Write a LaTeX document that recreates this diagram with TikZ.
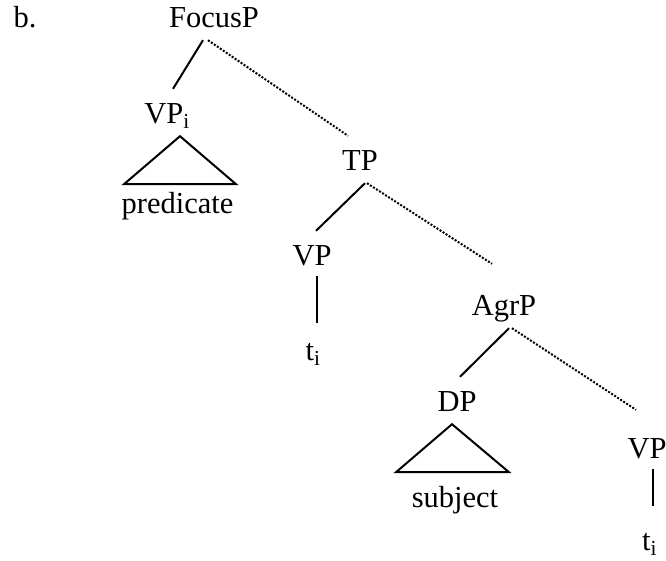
\documentclass[tikz,border=0pt]{standalone}
\usepackage{fontspec}
\setmainfont{Liberation Serif}
\usetikzlibrary{calc}
\tikzset{
  cat/.style={font=\fontsize{30.5}{36}\selectfont, anchor=base, inner xsep=0pt, inner ysep=13pt, text height=21pt, text depth=0pt},
  leaf/.style={font=\fontsize{30.5}{36}\selectfont, anchor=base, inner sep=0pt},
  branch/.style={draw=black, line width=2pt},
  chain/.style={draw=black, line width=2pt, dash pattern=on 2pt off 1.6pt},
  roof/.style={draw=black, line width=2pt, line join=miter}
}

\begin{document}
\begin{tikzpicture}[x=1pt,y=-1pt]
  \useasboundingbox (0,0) rectangle (666,560);

  \node[leaf] (ex) at (25,27) {b.};
  \node[cat] (focus) at (214,27) {FocusP};
  \node[cat] (vpi) at (167,123) {VP\textsubscript{i}};
  \node[cat] (tp) at (360,170) {TP};
  \node[cat] (vpa) at (312,265) {VP};
  \node[cat] (ta) at (313,360) {t\textsubscript{i}};
  \node[cat] (agrp) at (504,315) {AgrP};
  \node[cat] (dp) at (457,411) {DP};
  \node[cat] (vpb) at (647,458) {VP};
  \node[cat] (tb) at (649.5,550) {t\textsubscript{i}};
  \node[leaf] (pred) at (177.5,213) {predicate};
  \node[leaf] (subj) at (455,507) {subject};

  \draw[branch] ([xshift=-11pt]focus.south) -- ([xshift=6pt]vpi.north);
  \draw[chain] ([xshift=-6pt]focus.south) -- ([xshift=-12pt]tp.north);
  \draw[branch] ([xshift=5pt]tp.south) -- ([xshift=4pt]vpa.north);
  \draw[chain] ([xshift=7pt]tp.south) -- ([xshift=-12pt,yshift=17pt]agrp.north);
  \draw[branch] ([xshift=5pt,yshift=2pt]vpa.south) -- ([xshift=4pt,yshift=3pt]ta.north);
  \draw[branch] ([xshift=5pt]agrp.south) -- ([xshift=3pt]dp.north);
  \draw[chain] ([xshift=8pt]agrp.south) -- ([xshift=-11pt,yshift=14pt]vpb.north);
  \draw[branch] ([xshift=6pt,yshift=2pt]vpb.south) -- ([xshift=3.5pt,yshift=10pt]tb.north);

  \draw[roof] ([xshift=13pt]vpi.south) -- ++(-56,48) -- ++(112,0) -- cycle;
  \draw[roof] ([xshift=-5pt]dp.south) -- ++(-56,48) -- ++(113,0) -- cycle;
\end{tikzpicture}
\end{document}
